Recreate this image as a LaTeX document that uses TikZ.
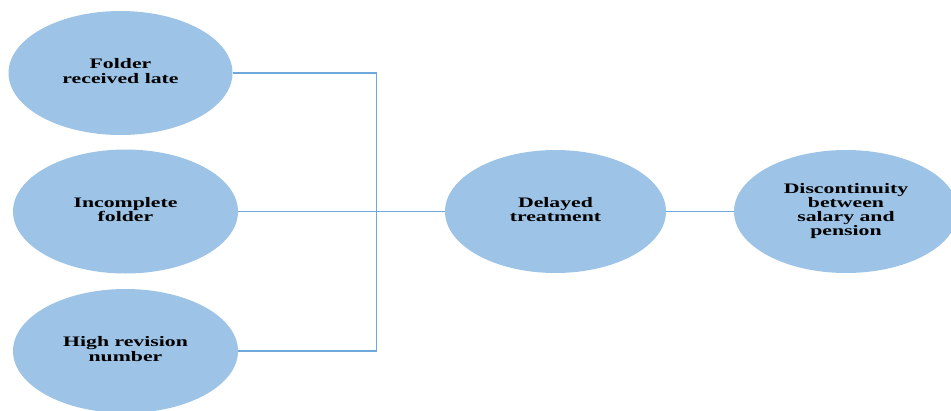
\documentclass[tikz,border=0pt]{standalone}
\usepackage{fontspec}
\setmainfont{Liberation Serif}
\usetikzlibrary{shapes.geometric}
\definecolor{blobfill}{HTML}{9DC3E6}
\definecolor{linkblue}{HTML}{6FA8DC}
% labels are set wide: bold serif stretched horizontally
\newcommand\widelabel[1]{\scalebox{1.5}[1]{\fontsize{14.5}{13.4}\selectfont\bfseries\begin{tabular}{@{}c@{}}#1\end{tabular}}}
\begin{document}
\begin{tikzpicture}[x=1pt,y=-1pt,
  blob/.style={ellipse,fill=blobfill,inner sep=0pt,minimum width=224pt,minimum height=124pt},
  link/.style={draw=linkblue,line width=1.1pt}]
\useasboundingbox (0,0) rectangle (951,410);
\clip (0,0) rectangle (951,410);
\node[blob] (late) at (120.5,73) {\widelabel{Folder\\received late}};
\node[blob,minimum width=225pt] (incomplete) at (125.5,211.5) {\widelabel{Incomplete\\folder}};
\node[blob,minimum width=225pt] (revision) at (125.5,351) {\widelabel{High revision\\number}};
\node[blob,minimum width=221pt,minimum height=123pt] (delay) at (555.5,211.5) {\widelabel{Delayed\\treatment}};
\node[blob,minimum height=123pt] (gap) at (846,211.5) {\widelabel{Discontinuity\\between\\salary and\\pension}};
\coordinate (jtop) at (376.5,73);
\coordinate (jbot) at (376.5,351);
\draw[link] (late.east) -- (jtop) -- (jbot) -- (revision.east);
\draw[link] (incomplete.east) -- (delay.west);
\draw[link] (delay.east) -- (gap.west);
\end{tikzpicture}
\end{document}
